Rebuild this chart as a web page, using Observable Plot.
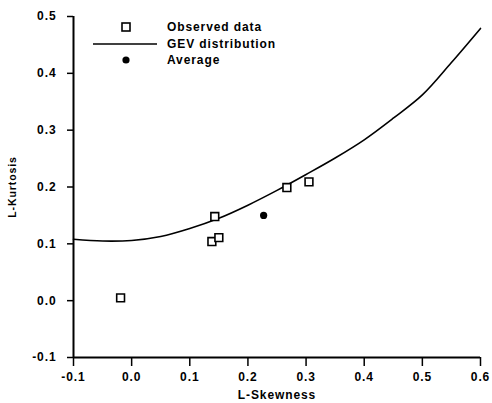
<!DOCTYPE html>
<html>
<head>
<meta charset="utf-8">
<script src="https://cdn.jsdelivr.net/npm/d3@7"></script>
<script src="https://cdn.jsdelivr.net/npm/@observablehq/plot@0.6"></script>
<style>
  html, body { margin: 0; padding: 0; background: #fff; }
  #wrap { position: relative; width: 492px; height: 403px; }
  #legend { position: absolute; left: 90px; top: 19px; font-family: "Liberation Sans", Arial, sans-serif; font-size: 12px; font-weight: bold; letter-spacing: 0.9px; color: #000; }
  #legend .row { position: relative; height: 16.5px; display: flex; align-items: center; }
  #legend svg { width: 72px; height: 16px; }
  #legend span { margin-left: 5px; }
</style>
</head>
<body>
<div id="wrap"><div id="chart"></div><div id="legend"></div></div>
<script>
// Observed data (L-Skewness, L-Kurtosis)
const obsSkew = [-0.019, 0.138, 0.150, 0.143, 0.267, 0.305];
const obsKurt = [0.005, 0.104, 0.111, 0.148, 0.199, 0.209];
// Average
const avgSkew = [0.227];
const avgKurt = [0.150];
// GEV distribution curve
const gevSkew = [-0.1, -0.05, 0.0, 0.05, 0.1, 0.15, 0.2, 0.25, 0.3, 0.35, 0.4, 0.45, 0.5, 0.55, 0.6];
const gevKurt = [0.108, 0.105, 0.106, 0.113, 0.127, 0.145, 0.168, 0.194, 0.222, 0.251, 0.283, 0.321, 0.362, 0.419, 0.479];
// Axes
const xDomain = [-0.1, 0.6];
const yDomain = [-0.1, 0.5];
const xTicks = [-0.1, 0.0, 0.1, 0.2, 0.3, 0.4, 0.5, 0.6];
const yTicks = [-0.1, 0.0, 0.1, 0.2, 0.3, 0.4, 0.5];
const xLabel = "L-Skewness";
const yLabel = "L-Kurtosis";
const legendLabels = ["Observed data", "GEV distribution", "Average"];

const obs = obsSkew.map((s, i) => ({s, k: obsKurt[i]}));
const avg = avgSkew.map((s, i) => ({s, k: avgKurt[i]}));
const gev = gevSkew.map((s, i) => ({s, k: gevKurt[i]}));
const fmt = d => d.toFixed(1);

const chart = Plot.plot({
  width: 492,
  height: 403,
  marginLeft: 73,
  marginRight: 12,
  marginTop: 16,
  marginBottom: 46,
  style: {fontFamily: "Liberation Sans, Arial, sans-serif", fontSize: "12px", fontWeight: "bold", letterSpacing: "0.9px", color: "#000", background: "#fff"},
  x: {domain: xDomain},
  y: {domain: yDomain},
  marks: [
    Plot.axisX({ticks: xTicks, tickFormat: fmt, tickSize: 9, tickPadding: 6, strokeWidth: 1.5, label: xLabel, labelAnchor: "center", labelArrow: "none", labelOffset: 41}),
    Plot.axisY({ticks: yTicks, tickFormat: fmt, tickSize: 6, tickPadding: 11, strokeWidth: 1.5, label: null}),
    Plot.text([yLabel], {text: d => d, frameAnchor: "left", rotate: -90, dx: -61, fontSize: 10.5, textAnchor: "middle", lineAnchor: "middle", fill: "#000", style: "letter-spacing:0.2px"}),
    Plot.ruleX([xDomain[0]], {stroke: "#000", strokeWidth: 2}),
    Plot.ruleY([yDomain[0]], {stroke: "#000", strokeWidth: 2}),
    Plot.line(gev, {x: "s", y: "k", stroke: "#000", strokeWidth: 1.6, curve: "catmull-rom"}),
    Plot.dot(obs, {x: "s", y: "k", symbol: "square", r: 4.4, stroke: "#000", strokeWidth: 1.6, fill: "#fff"}),
    Plot.dot(avg, {x: "s", y: "k", r: 3.6, fill: "#000", stroke: "none"})
  ]
});
document.getElementById("chart").appendChild(chart);

// Legend
const legend = document.getElementById("legend");
const symbols = [
  '<rect x="32" y="4" width="8" height="8" fill="#fff" stroke="#000" stroke-width="1.6"/>',
  '<line x1="3" y1="8" x2="67" y2="8" stroke="#000" stroke-width="1.6"/>',
  '<circle cx="36" cy="8" r="3.6" fill="#000"/>'
];
legendLabels.forEach((lab, i) => {
  const row = document.createElement("div");
  row.className = "row";
  row.innerHTML = `<svg viewBox="0 0 72 16">${symbols[i]}</svg><span>${lab}</span>`;
  legend.appendChild(row);
});
</script>
</body>
</html>
